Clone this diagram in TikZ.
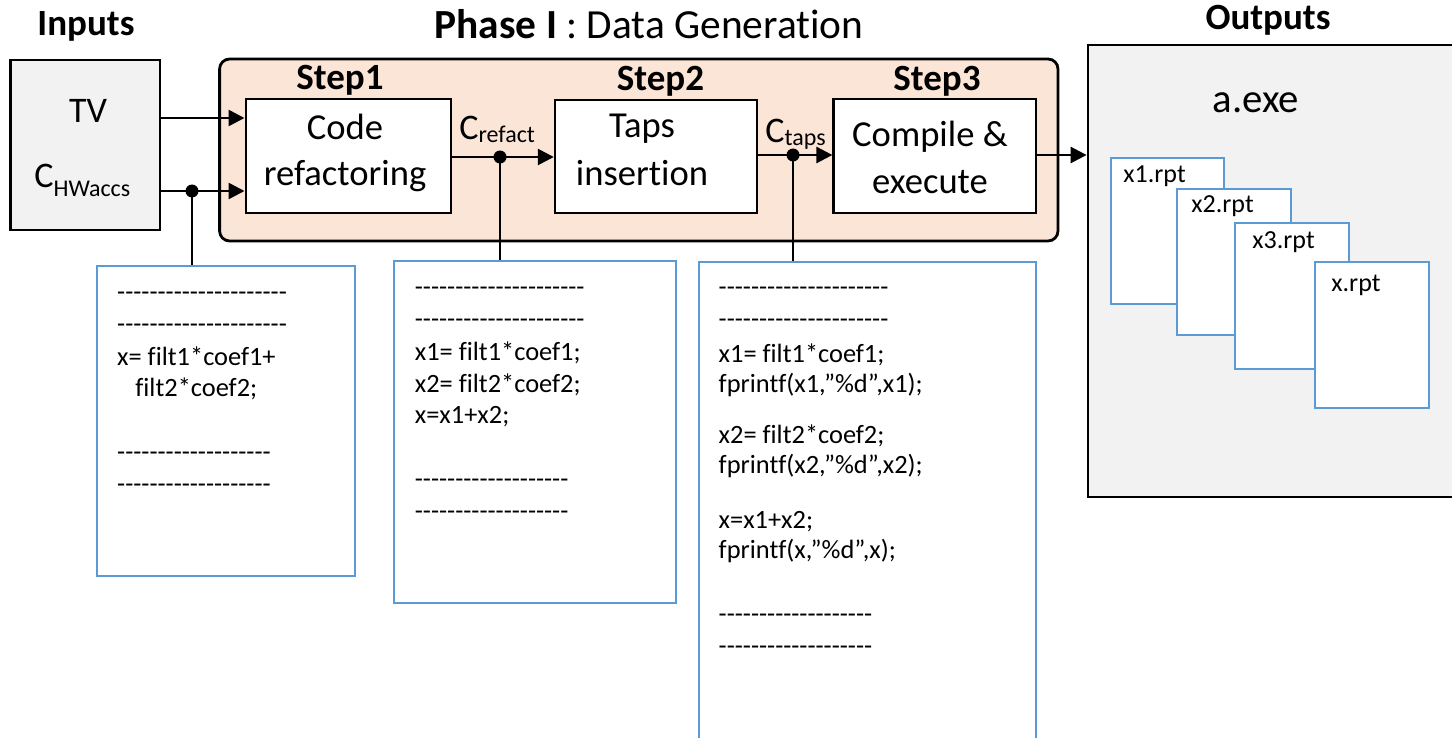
\documentclass[tikz,border=0pt]{standalone}
\usepackage{fontspec}
\setmainfont{Carlito}[Ligatures=NoCommon]
\usetikzlibrary{arrows.meta}
\definecolor{peach}{HTML}{FBE5D6}
\definecolor{panel}{HTML}{F2F2F2}
\definecolor{sheet}{HTML}{5B9BD5}
% a row of separate hyphens (kerns keep them from merging into dashes)
\newcommand\hyphrow[1]{\foreach\k in {1,...,#1}{-\kern0pt}}

\begin{document}
\begin{tikzpicture}[x=0.5pt,y=-0.5pt,
  title/.style={font=\fontsize{18.5}{22}\selectfont\bfseries, inner sep=0, anchor=base},
  steptxt/.style={font=\fontsize{18.3}{22}\selectfont, inner sep=0, anchor=base},
  stepbox/.style={draw=black, line width=1.2pt, fill=white, inner sep=0},
  codebox/.style={draw=sheet, line width=1pt, fill=white, inner sep=0},
  codeline/.style={font=\fontsize{13.2}{16}\selectfont, inner sep=0, anchor=base west},
  filebox/.style={draw=sheet, line width=1pt, fill=white, inner sep=0},
  filetxt/.style={font=\fontsize{13}{16}\selectfont, inner sep=0, anchor=base west},
  sig/.style={font=\fontsize{18}{22}\selectfont, inner sep=0, anchor=base west},
  flow/.style={line width=1.3pt, -{Triangle[length=8pt,width=8pt]}},
  tap/.style={line width=0.6pt},
  joint/.style={circle, fill=black, inner sep=0, minimum size=6.5pt},
]
\useasboundingbox (0,0) rectangle (1452,738);

% ---------- titles ----------
\node[title] (tin) at (86,36) {Inputs};
\node[title, font=\fontsize{20.7}{24}\selectfont] (tph) at (649,39) {{\bfseries Phase I} : Data Generation};
\node[title] (tout) at (1268,30) {Outputs};

% ---------- inputs ----------
\node[draw=black, line width=1.4pt, fill=panel, inner sep=0,
      minimum width=74.7pt, minimum height=85pt] (inp) at (85.3,145) {};
\node[steptxt, font=\fontsize{18}{22}\selectfont] (tv) at (88,123) {TV};
\node[sig] (chw) at (34,187) {C\raisebox{-5pt}{\fontsize{12}{14}\selectfont HWaccs}};

% ---------- phase I panel ----------
\node[draw=black, line width=1.4pt, fill=peach, rounded corners=5pt, inner sep=0,
      minimum width=419.2pt, minimum height=91pt] (phase) at (638.8,150) {};

\node[title] (st1) at (340,90) {Step1};
\node[title] (st2) at (660.5,91) {Step2};
\node[title] (st3) at (937,91) {Step3};

\node[stepbox, minimum width=102.5pt, minimum height=57pt] (s1) at (348.2,156) {};
\node[stepbox, minimum width=101pt, minimum height=56.5pt] (s2) at (656,156.5) {};
\node[stepbox, minimum width=101.2pt, minimum height=57pt] (s3) at (934.8,156) {};

\node[steptxt] (s1a) at (345,140) {Code};
\node[steptxt] (s1b) at (345,185) {refactoring};
\node[steptxt] (s2a) at (642,138) {Taps};
\node[steptxt] (s2b) at (642,185) {insertion};
\node[steptxt] (s3a) at (930,147) {Compile \&};
\node[steptxt] (s3b) at (930,193) {execute};

\node[sig] (cref) at (459,140) {C\raisebox{-1.5pt}{\fontsize{12}{14}\selectfont refact}};
\node[sig] (ctap) at (765,143) {C\raisebox{-1.5pt}{\fontsize{12}{14}\selectfont taps}};

% ---------- outputs ----------
\node[draw=black, line width=1.4pt, fill=panel, inner sep=0,
      minimum width=196pt, minimum height=226pt] (out) at (1284,271) {};
\node[steptxt, font=\fontsize{20.4}{24}\selectfont] (aexe) at (1256,113) {a.exe};

\node[filebox, minimum width=56.7pt, minimum height=73.2pt] (f1) at (1167.35,231.2) {};
\node[filetxt] (f1t) at (1123,183) {x1.rpt};
\node[filebox, minimum width=57pt, minimum height=72.8pt] (f2) at (1234,261.8) {};
\node[filetxt] (f2t) at (1191,213) {x2.rpt};
\node[filebox, minimum width=57pt, minimum height=73pt] (f3) at (1291.7,296.3) {};
\node[filetxt] (f3t) at (1252,249) {x3.rpt};
\node[filebox, minimum width=56.8pt, minimum height=73pt] (f4) at (1371.8,334.7) {};
\node[filetxt] (f4t) at (1331,292) {x.rpt};

% ---------- code listings ----------
\node[codebox, minimum width=129pt, minimum height=155.15pt] (code1) at (226,420.85) {};
\node[codeline] (c1a) at (116.8,300) {\hyphrow{21}};
\node[codeline] (c1b) at (116.8,332) {\hyphrow{21}};
\node[codeline] (c1c) at (116.8,365) {x= filt1*coef1+};
\node[codeline] (c1d) at (135,396) {filt2*coef2;};
\node[codeline] (c1e) at (116.8,460) {\hyphrow{19}};
\node[codeline] (c1f) at (116.8,492) {\hyphrow{19}};

\node[codebox, minimum width=140.75pt, minimum height=171pt] (code2) at (534.75,432) {};
\node[codeline] (c2a) at (414.5,295) {\hyphrow{21}};
\node[codeline] (c2b) at (414.5,327) {\hyphrow{21}};
\node[codeline] (c2c) at (414.5,360) {x1= filt1*coef1;};
\node[codeline] (c2d) at (414.5,392) {x2= filt2*coef2;};
\node[codeline] (c2e) at (414.5,423) {x=x1+x2;};
\node[codeline] (c2f) at (414.5,487) {\hyphrow{19}};
\node[codeline] (c2g) at (414.5,519) {\hyphrow{19}};

\node[codebox, minimum width=168.5pt, minimum height=259pt] (code3) at (867.5,521) {};
\node[codeline] (c3a) at (718.3,295) {\hyphrow{21}};
\node[codeline] (c3b) at (718.3,327) {\hyphrow{21}};
\node[codeline] (c3c) at (718.3,362) {x1= filt1*coef1;};
\node[codeline] (c3d) at (718.3,392) {fprintf(x1,”\%d”,x1);};
\node[codeline] (c3e) at (718.3,443) {x2= filt2*coef2;};
\node[codeline] (c3f) at (718.3,473) {fprintf(x2,”\%d”,x2);};
\node[codeline] (c3g) at (718.3,528) {x=x1+x2;};
\node[codeline] (c3h) at (718.3,558) {fprintf(x,”\%d”,x);};
\node[codeline] (c3i) at (718.3,622) {\hyphrow{19}};
\node[codeline] (c3j) at (718.3,654) {\hyphrow{19}};

% ---------- connectors ----------
\coordinate (ytv) at (0,118);
\coordinate (ych) at (0,191);
\coordinate (y12) at (0,157);
\coordinate (y23) at (0,155);

\draw[flow] (inp.east |- ytv) -- (s1.west |- ytv);
\draw[flow] (inp.east |- ych) -- (s1.west |- ych);
\draw[flow] (s1.east |- y12) -- (s2.west |- y12);
\draw[flow] (s2.east |- y23) -- (s3.west |- y23);
\draw[flow] (s3.east |- y23) -- (out.west |- y23);

\node[joint] (j1) at (192,191) {};
\node[joint] (j2) at (500,157) {};
\node[joint] (j3) at (793,155) {};
\draw[tap] (j1.center) -- (j1.center |- code1.north);
\draw[tap] (j2.center) -- (j2.center |- code2.north);
\draw[tap] (j3.center) -- (j3.center |- code3.north);
\end{tikzpicture}
\end{document}
